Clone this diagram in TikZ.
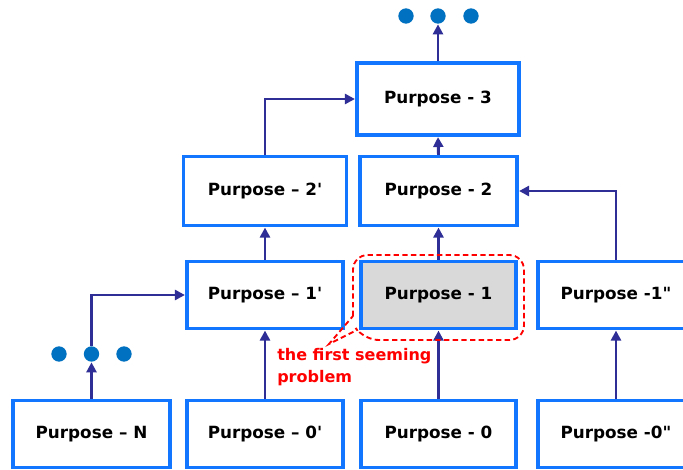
\documentclass[tikz,border=0pt]{standalone}
\usepackage{fontspec}
\setmainfont{DejaVu Sans}[Ligatures=TeXOff]
\usetikzlibrary{arrows.meta}
\definecolor{boxblue}{RGB}{18,118,255}
\definecolor{arrowblue}{RGB}{46,46,150}
\definecolor{dotblue}{RGB}{0,112,192}
\definecolor{grayfill}{RGB}{217,217,217}
\definecolor{calloutred}{RGB}{255,0,0}
\tikzset{
  pbox/.style={draw=boxblue, line width=2.5pt, fill=white, inner sep=0pt,
    font=\bfseries\fontsize{12.6}{14}\selectfont, text=black,
    minimum width=117pt, minimum height=50.25pt},
  arr/.style={draw=arrowblue, line width=2.2pt,
    -{Triangle[width=7.5pt,length=7.5pt]}, shorten >=0.3pt},
  dotnode/.style={circle, fill=dotblue, draw=none, inner sep=0pt, minimum size=11.5pt},
  callout/.style={draw=calloutred, line width=1.4pt, dash pattern=on 4pt off 2.5pt},
}
\begin{document}
\begin{tikzpicture}[x=0.75pt, y=-0.75pt]
  \useasboundingbox (0,0) rectangle (683,469);
  \clip (0,0) rectangle (683,469);

  % bottom row
  \node[pbox, minimum width=117.75pt] (pN)  at (91.5,434) {Purpose – N};
  \node[pbox] (p0a) at (265,434) {Purpose – 0'};
  \node[pbox, minimum width=116.25pt] (p0)  at (438.5,434) {Purpose - 0};
  \node[pbox] (p0b) at (616,434) {Purpose -0"};

  % first level
  \node[pbox] (p1a) at (265,295) {Purpose – 1'};
  \node[pbox, minimum width=116.25pt, fill=grayfill] (p1) at (438.5,295) {Purpose - 1};
  \node[pbox] (p1b) at (616,295) {Purpose -1"};

  % second level
  \node[pbox, minimum width=122.25pt, minimum height=51.75pt] (p2a) at (265,191) {Purpose – 2'};
  \node[pbox, minimum width=117.75pt, minimum height=51.75pt] (p2) at (438.5,191) {Purpose - 2};

  % third level
  \node[pbox, minimum width=121.5pt, minimum height=54pt] (p3) at (438,99) {Purpose - 3};

  % continuation dots
  \node[dotnode] (ta) at (406,16) {};
  \node[dotnode] (tb) at (438,16) {};
  \node[dotnode] (tc) at (471,16) {};
  \node[dotnode] (la) at (59,354) {};
  \node[dotnode] (lb) at (91.5,354) {};
  \node[dotnode] (lc) at (124,354) {};

  % connectors
  \draw[arr] (pN.north) -- (lb.south);
  \draw[arr] (lb.north) |- (p1a.west);
  \draw[arr] (p0a.north) -- (p1a.south);
  \draw[arr] (p1a.north) -- (p2a.south);
  \draw[arr] (p2a.north) |- (p3.west);
  \draw[arr] (p0.north) -- (p1.south);
  \draw[arr] (p1.north) -- (p2.south);
  \draw[arr] (p2.north) -- (p3.south);
  \draw[arr] (p3.north) -- (tb.south);
  \draw[arr] (p0b.north) -- (p1b.south);
  \draw[arr] (p1b.north) |- (p2.east);

  % callout around the highlighted purpose
  \coordinate (tip) at (329,344);
  \draw[callout] (353,316) [rounded corners=11pt] -- (353,255) -- (524,255)
    -- (524,340) -- (364,340) [sharp corners] -- (357,330) -- (tip) -- cycle;
  \node[anchor=north west, align=left, inner sep=0pt, text=calloutred,
        font=\bfseries\fontsize{12}{16.5}\selectfont] (note) at (277,348)
        {the first seeming\\problem};
\end{tikzpicture}
\end{document}
